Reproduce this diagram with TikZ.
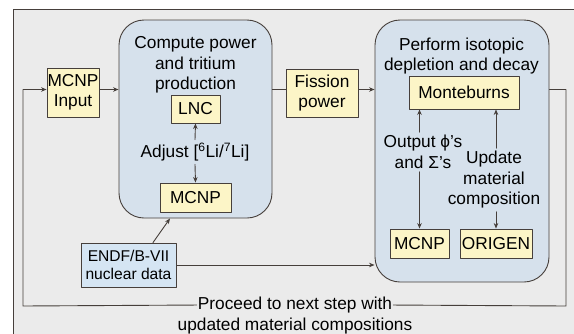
\documentclass[tikz,border=0pt]{standalone}
\usepackage{fontspec}
\setmainfont{Liberation Sans}
\usepackage{tikz}
\usetikzlibrary{arrows.meta,positioning}
\definecolor{burnbg}{HTML}{EBEBEB}
\definecolor{burnline}{HTML}{463F3B}
\definecolor{burnyellow}{HTML}{FCF5C7}
\definecolor{burnblue}{HTML}{D6E1EC}
\definecolor{burndata}{HTML}{D5E5F3}
\newcommand\burnfont{\fontsize{17.3}{20.5}\selectfont}
\newcommand\burnsmall{\fontsize{15.6}{18}\selectfont}
\tikzset{
  every picture/.append style={line cap=round,line join=round},
  burn frame/.style={draw=burnline,fill=burnbg,line width=1pt},
  burn stage/.style={draw=burnline,fill=burnblue,rounded corners=25pt,line width=0.9pt},
  burn code/.style={draw=burnline,fill=burnyellow,line width=0.9pt,inner sep=0pt,align=center},
  burn data/.style={draw=burnline,fill=burndata,line width=0.9pt,inner sep=0pt,align=center,font=\burnsmall},
  burn text/.style={align=center,inner sep=0pt},
  burn link/.style={draw=burnline,line width=0.9pt},
  burn arrow/.style={burn link,-{Stealth[length=5.5pt,width=4.5pt]}}
}
\begin{document}
\begin{tikzpicture}[x=1pt,y=-1pt,font=\burnfont]
\useasboundingbox (0,0) rectangle (574,333);
\fill[white] (0,0) rectangle (574,333);
\draw[burn frame] (13,9) rectangle (590,350);
% the two stages
\node[burn stage,minimum width=153pt,minimum height=198pt] (compute) at (195.5,119) {};
\node[burn stage,minimum width=174pt,minimum height=262pt] (deplete) at (462,151) {};
\node[burn text] (computetitle) at (195.5,65) {Compute power\\and tritium\\production};
\node[burn text] (depletetitle) at (461.5,56) {Perform isotopic\\depletion and decay};
% codes and data
\node[burn code,minimum width=52pt,minimum height=49pt] (mcnpin) at (73,92.5) {MCNP\\Input};
\node[burn code,minimum width=49pt,minimum height=28pt] (lnc) at (195.5,109) {LNC};
\node[burn text,inner sep=3pt] (adjust) at (195,152) {Adjust [\textsuperscript{6}Li/\textsuperscript{7}Li]};
\node[burn code,minimum width=71pt,minimum height=29pt] (mcnpa) at (195.5,197.5) {MCNP};
\node[burn data,minimum width=95pt,minimum height=44pt] (endf) at (128.5,265) {ENDF/B-VII\\nuclear data};
\node[burn code,minimum width=72pt,minimum height=48pt] (fission) at (322,93) {Fission\\power};
\node[burn code,minimum width=110pt,minimum height=33pt] (monteburns) at (464,92.5) {Monteburns};
\node[burn text,inner sep=3pt] (output) at (423,152) {Output ϕ’s\\and Σ’s};
\node[burn text,inner sep=3pt] (update) at (494,180) {Update\\material\\composition};
\node[burn code,minimum width=59pt,minimum height=29pt] (mcnpb) at (419.5,243.5) {MCNP};
\node[burn code,minimum width=72pt,minimum height=29pt] (origen) at (496,243.5) {ORIGEN};
\node[burn text,inner sep=1pt,anchor=base] (proceed) at (295,309.5) {Proceed to next step with};
\node[burn text,inner sep=1pt,anchor=base] (proceedb) at (295,330) {updated material compositions};
% main row
\coordinate (row) at (0,89.5);
\coordinate (loopright) at (566,306);
\coordinate (loopleft) at (23,306);
\draw[burn arrow] (mcnpin.east |- row) -- (compute.west |- row);
\draw[burn link] (compute.east |- row) -- (fission.west |- row);
\draw[burn arrow] (fission.east |- row) -- (deplete.west |- row);
\draw[burn link] (deplete.east |- row) -| (loopright) -- (proceed.east);
\draw[burn arrow] (proceed.west) -- (loopleft) |- (mcnpin.west |- row);
% inside the stages
\draw[burn arrow] (adjust.north) -- (lnc.south);
\draw[burn arrow] (adjust.south) -- (mcnpa.north);
\draw[burn arrow] ([xshift=24.5pt]endf.north) -- ([xshift=-25.5pt]compute.south);
\draw[burn arrow] (endf.east) -- (endf.east -| deplete.west);
\draw[burn arrow] (output.north -| mcnpb) -- (monteburns.south -| mcnpb);
\draw[burn arrow] (output.south -| mcnpb) -- (mcnpb.north);
\draw[burn arrow] (update.north -| origen) -- (monteburns.south -| origen);
\draw[burn arrow] (update.south -| origen) -- (origen.north);
\end{tikzpicture}
\end{document}
